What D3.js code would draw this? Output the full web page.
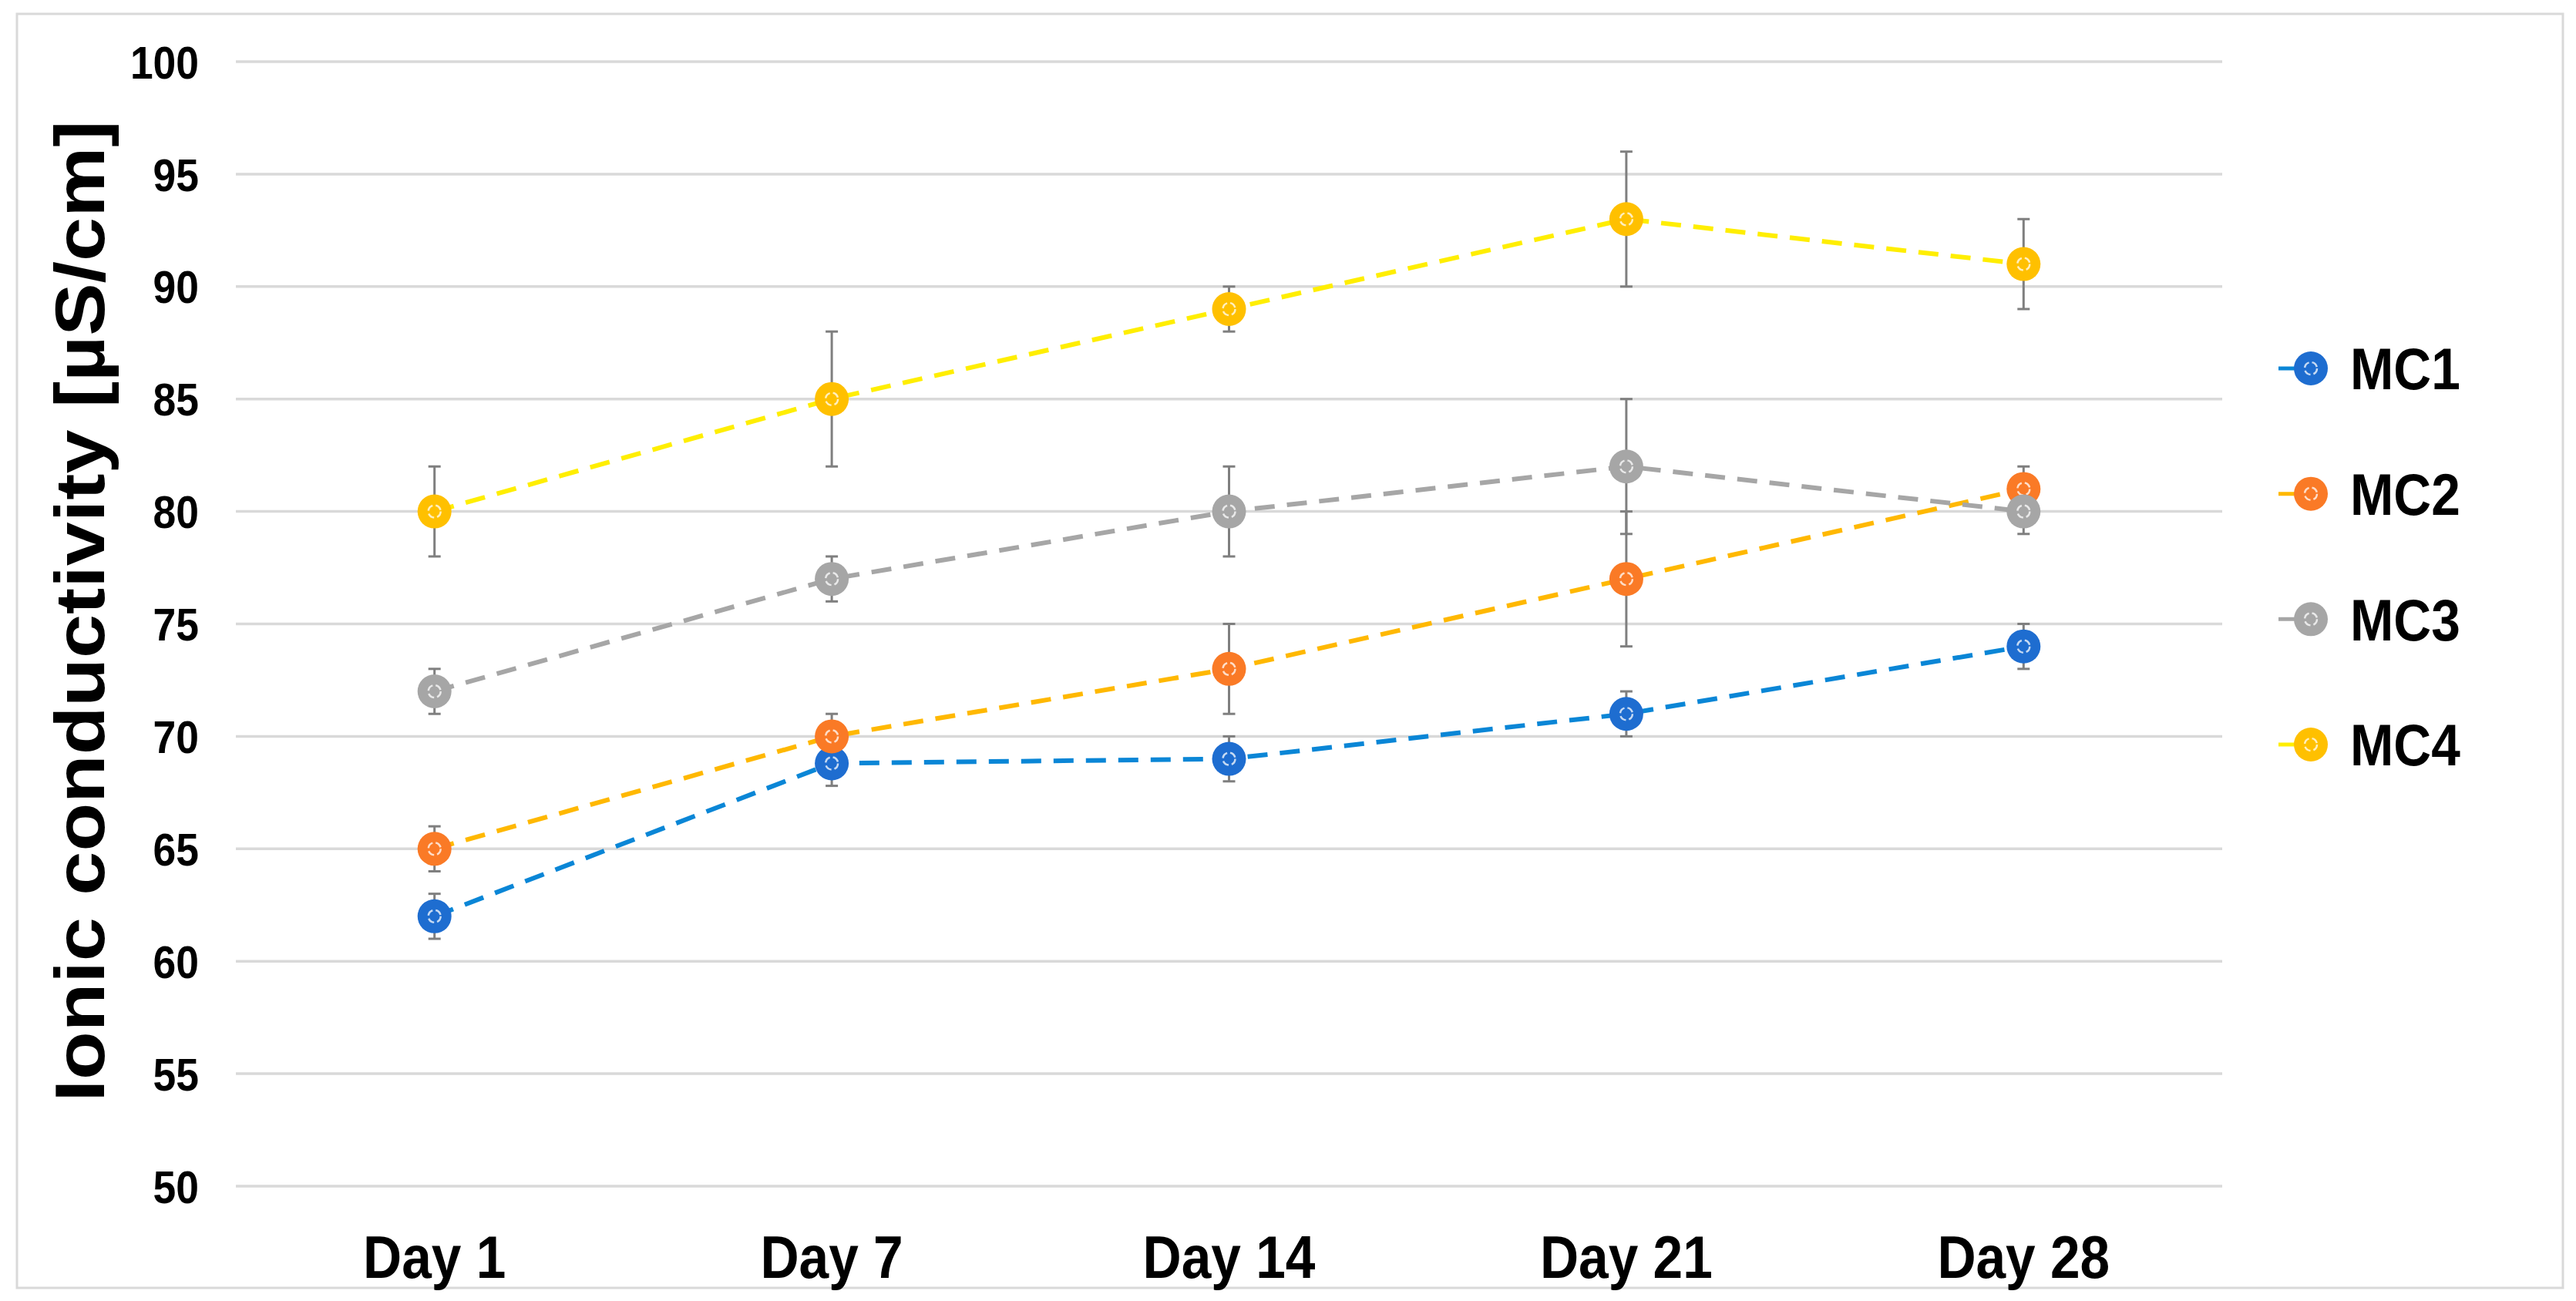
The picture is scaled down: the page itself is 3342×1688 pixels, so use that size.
<!DOCTYPE html>
<meta charset="utf-8">
<script src="https://d3js.org/d3.v7.min.js"></script>
<style>
  html, body { margin: 0; padding: 0; background: #fff; }
  text { font-family: "Liberation Sans", Arial, sans-serif; font-weight: bold; fill: #000; }
</style>
<body>
<div id="chart"></div>
<script>
// data
var days = ["Day 1", "Day 7", "Day 14", "Day 21", "Day 28"];
var seriesNames = ["MC1", "MC2", "MC3", "MC4"];
var mc1 = [62, 68.8, 69, 71, 74];
var mc1Err = [1, 1, 1, 1, 1];
var mc2 = [65, 70, 73, 77, 81];
var mc2Err = [1, 1, 2, 3, 1];
var mc3 = [72, 77, 80, 82, 80];
var mc3Err = [1, 1, 2, 3, 1];
var mc4 = [80, 85, 89, 93, 91];
var mc4Err = [2, 3, 1, 3, 2];
var yTicks = [50, 55, 60, 65, 70, 75, 80, 85, 90, 95, 100];

var markerColors = ["#1e6dd0", "#fa7a26", "#a6a6a6", "#ffc000"];
var lineColors = ["#0a86d6", "#ffb800", "#a6a6a6", "#ffee00"];

var series = [
  {name: "MC1", values: mc1, err: mc1Err},
  {name: "MC2", values: mc2, err: mc2Err},
  {name: "MC3", values: mc3, err: mc3Err},
  {name: "MC4", values: mc4, err: mc4Err}
];

var W = 3342, H = 1688;
var sx = 0.89; // the original figure is squeezed sideways a little

var svg = d3.select("#chart").append("svg")
  .attr("width", W).attr("height", H);

svg.append("rect").attr("width", W).attr("height", H).attr("fill", "#fff");

// outer frame
svg.append("rect")
  .attr("x", 22).attr("y", 18)
  .attr("width", 3325 - 22).attr("height", 1671 - 18)
  .attr("fill", "none").attr("stroke", "#d9d9d9").attr("stroke-width", 3);

var x = d3.scalePoint().domain(days).range([306, 2883]).padding(0.5);
var y = d3.scaleLinear().domain([50, 100]).range([1539, 80]);

// gridlines
svg.append("g").selectAll("line").data(yTicks).enter().append("line")
  .attr("x1", 306).attr("x2", 2883)
  .attr("y1", function(d) { return y(d); })
  .attr("y2", function(d) { return y(d); })
  .attr("stroke", "#d9d9d9").attr("stroke-width", 3.5);

// y tick labels
svg.append("g").selectAll("text").data(yTicks).enter().append("text")
  .attr("transform", function(d) { return "translate(258," + y(d) + ") scale(" + sx + ",1)"; })
  .attr("text-anchor", "end")
  .attr("dy", "0.36em")
  .style("font-size", "60px")
  .text(function(d) { return d; });

// x labels
svg.append("g").selectAll("text").data(days).enter().append("text")
  .attr("transform", function(d) { return "translate(" + x(d) + ",1658) scale(" + sx + ",1)"; })
  .attr("text-anchor", "middle")
  .style("font-size", "78px")
  .text(function(d) { return d; });

// y axis title
svg.append("text")
  .attr("transform", "translate(135,793) scale(" + sx + ",1) rotate(-90)")
  .attr("text-anchor", "middle")
  .attr("textLength", 1273)
  .attr("lengthAdjust", "spacingAndGlyphs")
  .style("font-size", "102px")
  .text("Ionic conductivity [µS/cm]");

// dashed lines
var line = d3.line()
  .x(function(d, i) { return x(days[i]); })
  .y(function(d) { return y(d); });

svg.append("g").selectAll("path").data(series).enter().append("path")
  .attr("d", function(s) { return line(s.values); })
  .attr("fill", "none")
  .attr("stroke", function(s, i) { return lineColors[i]; })
  .attr("stroke-width", 6)
  .attr("stroke-dasharray", "26,16");

// error bars
series.forEach(function(s) {
  var g = svg.append("g").attr("stroke", "#7f7f7f").attr("stroke-width", 3);
  s.values.forEach(function(v, i) {
    var cx = x(days[i]);
    var lo = y(v - s.err[i]), hi = y(v + s.err[i]);
    g.append("line").attr("x1", cx).attr("x2", cx).attr("y1", lo).attr("y2", hi);
    g.append("line").attr("x1", cx - 8).attr("x2", cx + 8).attr("y1", lo).attr("y2", lo);
    g.append("line").attr("x1", cx - 8).attr("x2", cx + 8).attr("y1", hi).attr("y2", hi);
  });
});

function marker(g, cx, cy, col) {
  g.append("circle").attr("cx", cx).attr("cy", cy).attr("r", 22).attr("fill", col);
  g.append("circle").attr("cx", cx).attr("cy", cy).attr("r", 8)
    .attr("fill", "none").attr("stroke", "#fff").attr("stroke-opacity", 0.75)
    .attr("stroke-width", 2.5).attr("stroke-dasharray", "9,4");
}

// markers
series.forEach(function(s, k) {
  var g = svg.append("g");
  s.values.forEach(function(v, i) { marker(g, x(days[i]), y(v), markerColors[k]); });
});

// legend
var legendY = d3.scalePoint().domain(seriesNames).range([478, 966]);
series.forEach(function(s, k) {
  var ly = legendY(s.name);
  svg.append("line")
    .attr("x1", 2956).attr("x2", 2990).attr("y1", ly).attr("y2", ly)
    .attr("stroke", lineColors[k]).attr("stroke-width", 5);
  marker(svg.append("g"), 2998, ly, markerColors[k]);
  svg.append("text")
    .attr("transform", "translate(3049," + ly + ") scale(" + sx + ",1)")
    .attr("dy", "0.36em")
    .style("font-size", "76px")
    .text(s.name);
});
</script>
</body>
